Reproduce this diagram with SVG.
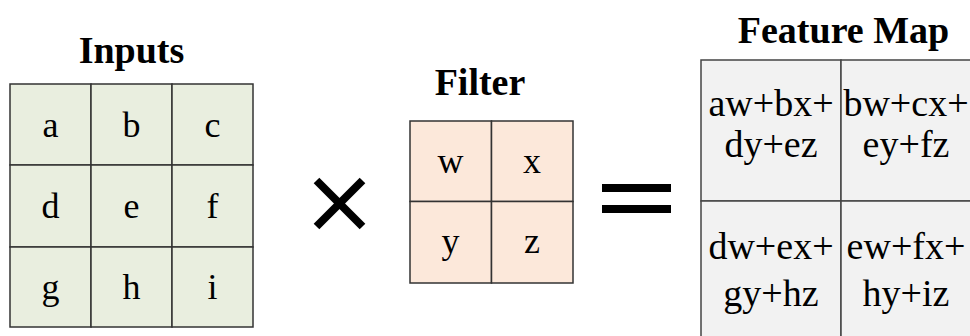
<svg xmlns="http://www.w3.org/2000/svg" width="970" height="336" viewBox="0 0 970 336">
<style>
.title{font-family:"Liberation Serif","Times New Roman",serif;font-weight:bold;font-size:38px;fill:#000;text-anchor:middle}
.t{font-family:"Liberation Serif","Times New Roman",serif;font-size:36px;fill:#000;text-anchor:middle}
.fm{font-family:"Liberation Serif","Times New Roman",serif;font-size:38px;fill:#000;text-anchor:middle}
.gi{fill:#E9EEDF;stroke:#333;stroke-width:1.5}
.gf{fill:#FCE8DA;stroke:#333;stroke-width:1.5}
.gm{fill:#F2F2F2;stroke:#444;stroke-width:1.5}
.op{stroke:#000;stroke-width:8;fill:none}
</style>
<rect width="970" height="336" fill="#fff"/>
<g id="inputs">
<text class="title" x="131.5" y="63">Inputs</text>
<rect class="gi" x="10" y="84" width="81" height="81"/>
<rect class="gi" x="91" y="84" width="81" height="81"/>
<rect class="gi" x="172" y="84" width="81" height="81"/>
<rect class="gi" x="10" y="165" width="81" height="82"/>
<rect class="gi" x="91" y="165" width="81" height="82"/>
<rect class="gi" x="172" y="165" width="81" height="82"/>
<rect class="gi" x="10" y="247" width="81" height="80"/>
<rect class="gi" x="91" y="247" width="81" height="80"/>
<rect class="gi" x="172" y="247" width="81" height="80"/>
<text class="t" x="50.5" y="137">a</text>
<text class="t" x="131.5" y="137">b</text>
<text class="t" x="212.5" y="137">c</text>
<text class="t" x="50.5" y="218">d</text>
<text class="t" x="131.5" y="218">e</text>
<text class="t" x="212.5" y="218">f</text>
<text class="t" x="50.5" y="299">g</text>
<text class="t" x="131.5" y="299">h</text>
<text class="t" x="212.5" y="299">i</text>
</g>
<g id="times">
<line class="op" x1="316.5" y1="180.5" x2="362.5" y2="226.5"/>
<line class="op" x1="362.5" y1="180.5" x2="316.5" y2="226.5"/>
</g>
<g id="filter">
<text class="title" x="480" y="95">Filter</text>
<rect class="gf" x="410" y="121" width="81.5" height="80.5"/>
<rect class="gf" x="491.5" y="121" width="81.5" height="80.5"/>
<rect class="gf" x="410" y="201.5" width="81.5" height="81.5"/>
<rect class="gf" x="491.5" y="201.5" width="81.5" height="81.5"/>
<text class="t" x="450.5" y="173">w</text>
<text class="t" x="532" y="173">x</text>
<text class="t" x="450.5" y="253">y</text>
<text class="t" x="532" y="253">z</text>
</g>
<g id="equals">
<rect x="602" y="184" width="69" height="8" fill="#000"/>
<rect x="602" y="205" width="69" height="8" fill="#000"/>
</g>
<g id="featuremap">
<text class="title" x="843.5" y="43">Feature Map</text>
<rect class="gm" x="701" y="60" width="140" height="141"/>
<rect class="gm" x="841" y="60" width="141" height="141"/>
<rect class="gm" x="701" y="201" width="140" height="141"/>
<rect class="gm" x="841" y="201" width="141" height="141"/>
<text class="fm" x="771" y="116">aw+bx+</text>
<text class="fm" x="771" y="157">dy+ez</text>
<text class="fm" x="906" y="116">bw+cx+</text>
<text class="fm" x="906" y="157">ey+fz</text>
<text class="fm" x="771" y="259">dw+ex+</text>
<text class="fm" x="771" y="306">gy+hz</text>
<text class="fm" x="906" y="259">ew+fx+</text>
<text class="fm" x="906" y="306">hy+iz</text>
</g>
</svg>
